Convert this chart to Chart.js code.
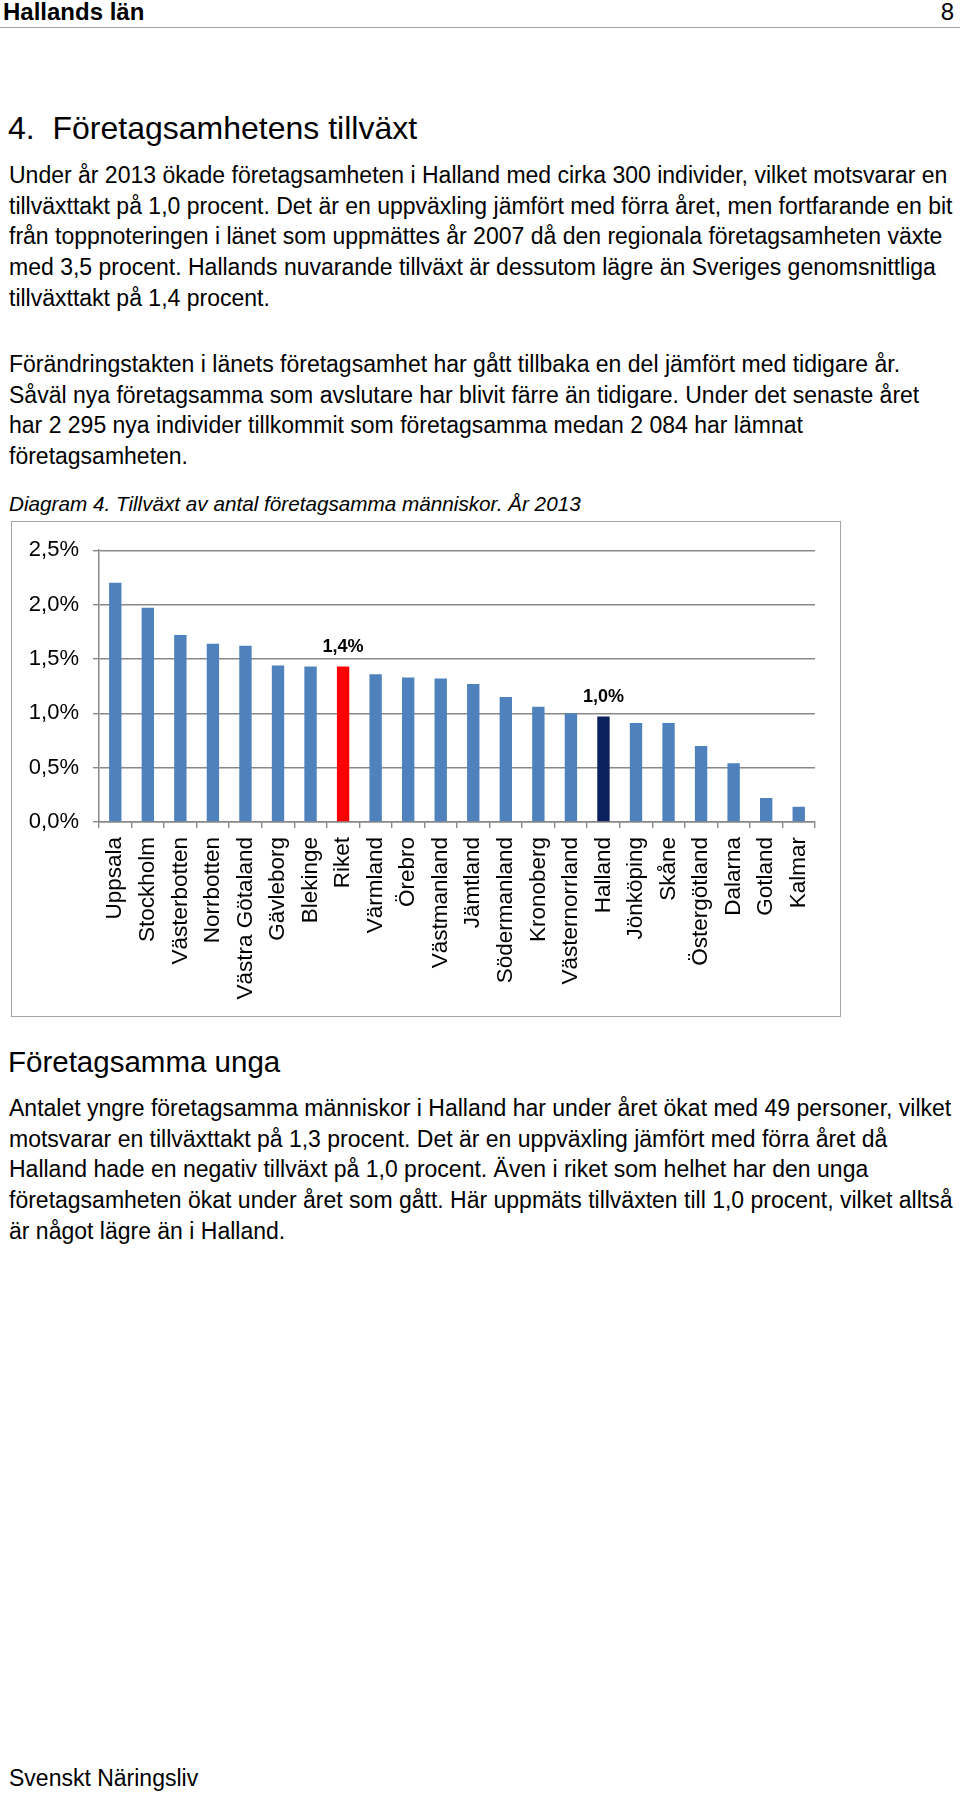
<!DOCTYPE html>
<html>
<head>
  <meta charset="utf-8">
  <title>Tillväxt av antal företagsamma människor</title>
  <script src="https://cdn.jsdelivr.net/npm/chart.js"></script>
  <style>
    body { margin: 0; width: 960px; height: 1796px; background: #fff; position: relative;
           font-family: "Liberation Sans", Arial, Helvetica, sans-serif; color: #000; }
    .abs { position: absolute; white-space: nowrap; }
    .txt { left: 9px; font-size: 23px; line-height: 30.7px; }
    #chartBox { position: absolute; left: 11px; top: 521px; width: 828px; height: 494px;
                border: 1.5px solid #a6a6a6; }
    #barChart { position: absolute; left: 1px; top: 1px; }
  </style>
</head>
<body>
  <div class="abs" style="left:3px; top:0px; font-size:24px; font-weight:bold; line-height:24px;">Hallands län</div>
  <div class="abs" style="right:6px; top:0px; font-size:24px; line-height:24px;">8</div>
  <div class="abs" style="left:0; top:27px; width:960px; height:0; border-top:1.5px solid #a0a0a0;"></div>

  <div class="abs" style="left:8px; top:110px; font-size:32px; line-height:36px;">4.&nbsp; Företagsamhetens tillväxt</div>

  <div class="abs txt" style="top:160px;">
    Under år 2013 ökade företagsamheten i Halland med cirka 300 individer, vilket motsvarar en<br>
    tillväxttakt på 1,0 procent. Det är en uppväxling jämfört med förra året, men fortfarande en bit<br>
    från toppnoteringen i länet som uppmättes år 2007 då den regionala företagsamheten växte<br>
    med 3,5 procent. Hallands nuvarande tillväxt är dessutom lägre än Sveriges genomsnittliga<br>
    tillväxttakt på 1,4 procent.
  </div>

  <div class="abs txt" style="top:349px;">
    Förändringstakten i länets företagsamhet har gått tillbaka en del jämfört med tidigare år.<br>
    Såväl nya företagsamma som avslutare har blivit färre än tidigare. Under det senaste året<br>
    har 2 295 nya individer tillkommit som företagsamma medan 2 084 har lämnat<br>
    företagsamheten.
  </div>

  <div class="abs txt" style="top:489px; font-size:20.7px; font-style:italic;">Diagram 4. Tillväxt av antal företagsamma människor. År 2013</div>

  <div id="chartBox">
    <canvas id="barChart" width="826" height="492"></canvas>
  </div>

  <div class="abs" style="left:8px; top:1044px; font-size:29.5px; line-height:36px;">Företagsamma unga</div>

  <div class="abs txt" style="top:1093px;">
    Antalet yngre företagsamma människor i Halland har under året ökat med 49 personer, vilket<br>
    motsvarar en tillväxttakt på 1,3 procent. Det är en uppväxling jämfört med förra året då<br>
    Halland hade en negativ tillväxt på 1,0 procent. Även i riket som helhet har den unga<br>
    företagsamheten ökat under året som gått. Här uppmäts tillväxten till 1,0 procent, vilket alltså<br>
    är något lägre än i Halland.
  </div>

  <div class="abs txt" style="top:1763px;">Svenskt Näringsliv</div>

  <script>
    // Tillväxt av antal företagsamma, 2013 (procent)
    const categories = ['Uppsala', 'Stockholm', 'Västerbotten', 'Norrbotten', 'Västra Götaland',
      'Gävleborg', 'Blekinge', 'Riket', 'Värmland', 'Örebro', 'Västmanland', 'Jämtland',
      'Södermanland', 'Kronoberg', 'Västernorrland', 'Halland', 'Jönköping', 'Skåne',
      'Östergötland', 'Dalarna', 'Gotland', 'Kalmar'];
    const growth = [2.20, 1.97, 1.72, 1.64, 1.62, 1.44, 1.43, 1.43, 1.36, 1.33, 1.32, 1.27,
      1.15, 1.06, 1.00, 0.97, 0.91, 0.91, 0.70, 0.54, 0.22, 0.14];
    const yTicks = [0, 0.5, 1.0, 1.5, 2.0, 2.5];
    const labelled = ['Riket', 'Halland'];

    const BLUE = '#4f81bd';
    const RED = '#ff0000';
    const NAVY = '#0b215e';
    const GRID = '#888888';
    const FONT = '"Liberation Sans", Arial, Helvetica, sans-serif';

    function pct(v) {
      return v.toFixed(1).replace('.', ',') + '%';
    }

    // draws the value above the highlighted bars
    const valueLabels = {
      id: 'valueLabels',
      afterDatasetsDraw(chart) {
        const ctx = chart.ctx;
        const meta = chart.getDatasetMeta(0);
        ctx.save();
        ctx.font = 'bold 18px ' + FONT;
        ctx.fillStyle = '#000';
        ctx.textAlign = 'center';
        ctx.textBaseline = 'alphabetic';
        labelled.forEach(name => {
          const i = categories.indexOf(name);
          const bar = meta.data[i];
          ctx.fillText(pct(growth[i]), bar.x, bar.y - 15);
        });
        ctx.restore();
      }
    };

    new Chart(document.getElementById('barChart'), {
      type: 'bar',
      data: {
        labels: categories,
        datasets: [{
          data: growth,
          backgroundColor: categories.map(c => c === 'Riket' ? RED : (c === 'Halland' ? NAVY : BLUE)),
          barPercentage: 0.38,
          categoryPercentage: 1.0
        }]
      },
      options: {
        responsive: false,
        animation: false,
        devicePixelRatio: 1,
        layout: { padding: { top: 22, right: 24, left: 0, bottom: 0 } },
        plugins: { legend: { display: false }, tooltip: { enabled: false } },
        scales: {
          x: {
            afterFit: s => { s.height = 193; },
            grid: { offset: true, drawOnChartArea: false, drawTicks: true, tickLength: 6, color: GRID, lineWidth: 1.4 },
            border: { color: GRID, width: 1.5 },
            ticks: {
              autoSkip: false, maxRotation: 90, minRotation: 90, padding: 9,
              color: '#000', font: { family: FONT, size: 22.5 }
            }
          },
          y: {
            min: 0,
            max: 2.5,
            afterFit: s => { s.width = 86; },
            afterBuildTicks: s => { s.ticks = yTicks.map(v => ({ value: v })); },
            grid: { color: GRID, lineWidth: 1.4, tickLength: 6 },
            border: { color: GRID, width: 1.5 },
            ticks: {
              padding: 14, color: '#000', font: { family: FONT, size: 22 },
              callback: v => pct(v)
            }
          }
        }
      },
      plugins: [valueLabels]
    });
  </script>
</body>
</html>
